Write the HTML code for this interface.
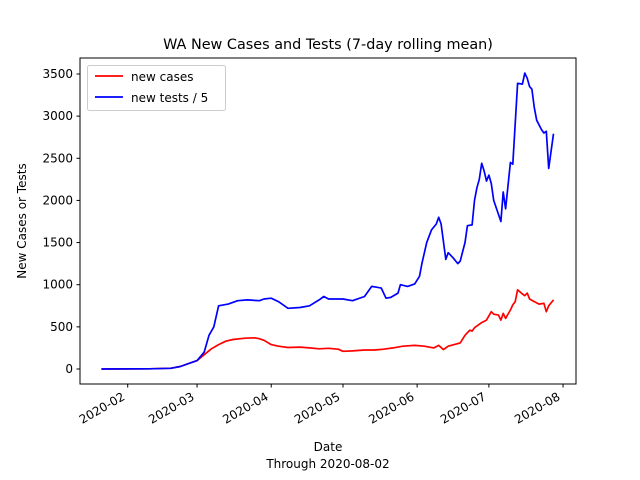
<!DOCTYPE html>
<html><head><meta charset="utf-8"><style>body{margin:0;background:#fff}svg{display:block;font-family:"DejaVu Sans","Liberation Sans",sans-serif}</style></head>
<body>
<svg id="c" width="640" height="480" xmlns="http://www.w3.org/2000/svg"></svg>
<script>
const yTicks=[0,500,1000,1500,2000,2500,3000,3500];
const xTickDates=["2020-02-01","2020-03-01","2020-04-01","2020-05-01","2020-06-01","2020-07-01","2020-08-01"];
const xTickLabels=["2020-02","2020-03","2020-04","2020-05","2020-06","2020-07","2020-08"];
const caseDates=["2020-01-21","2020-02-10","2020-02-19","2020-02-23","2020-02-27","2020-03-01","2020-03-04","2020-03-07","2020-03-10","2020-03-13","2020-03-16","2020-03-21","2020-03-25","2020-03-27","2020-03-29","2020-04-01","2020-04-04","2020-04-08","2020-04-13","2020-04-17","2020-04-21","2020-04-25","2020-04-29","2020-05-01","2020-05-05","2020-05-10","2020-05-14","2020-05-18","2020-05-22","2020-05-26","2020-05-31","2020-06-04","2020-06-08","2020-06-10","2020-06-12","2020-06-14","2020-06-19","2020-06-21","2020-06-23","2020-06-24","2020-06-25","2020-06-28","2020-06-30","2020-07-02","2020-07-03","2020-07-05","2020-07-06","2020-07-07","2020-07-08","2020-07-10","2020-07-11","2020-07-12","2020-07-13","2020-07-15","2020-07-16","2020-07-17","2020-07-18","2020-07-20","2020-07-22","2020-07-24","2020-07-25","2020-07-26","2020-07-28"];
const cases=[0,2,10,30,70,100,170,240,290,330,350,365,370,360,340,290,270,255,260,250,240,245,235,210,215,225,225,235,250,270,280,270,250,280,230,270,310,400,460,450,490,550,580,680,650,640,580,660,600,700,760,800,940,890,870,900,830,800,770,780,680,750,820];
const testDates=["2020-01-21","2020-02-10","2020-02-19","2020-02-23","2020-03-01","2020-03-04","2020-03-06","2020-03-08","2020-03-10","2020-03-14","2020-03-18","2020-03-22","2020-03-27","2020-03-29","2020-04-01","2020-04-04","2020-04-08","2020-04-13","2020-04-17","2020-04-21","2020-04-23","2020-04-25","2020-05-01","2020-05-05","2020-05-10","2020-05-13","2020-05-15","2020-05-17","2020-05-19","2020-05-21","2020-05-24","2020-05-25","2020-05-28","2020-05-31","2020-06-02","2020-06-03","2020-06-05","2020-06-07","2020-06-09","2020-06-10","2020-06-11","2020-06-13","2020-06-14","2020-06-16","2020-06-18","2020-06-19","2020-06-21","2020-06-22","2020-06-24","2020-06-25","2020-06-26","2020-06-27","2020-06-28","2020-06-29","2020-06-30","2020-07-01","2020-07-02","2020-07-03","2020-07-06","2020-07-07","2020-07-08","2020-07-10","2020-07-11","2020-07-13","2020-07-15","2020-07-16","2020-07-17","2020-07-18","2020-07-19","2020-07-20","2020-07-21","2020-07-23","2020-07-24","2020-07-25","2020-07-26","2020-07-28"];
const tests=[0,2,8,30,100,200,400,500,750,770,810,820,810,830,840,800,720,730,750,820,860,830,830,810,860,980,970,960,840,850,900,1000,980,1010,1100,1250,1500,1650,1720,1800,1720,1300,1380,1320,1250,1280,1500,1700,1710,2000,2150,2250,2440,2350,2230,2300,2200,2000,1750,2100,1900,2450,2430,3390,3380,3510,3450,3350,3320,3100,2950,2840,2800,2820,2380,2790];
</script>
<script>
const svg=document.getElementById('c');const NS='http://www.w3.org/2000/svg';
const L=80,R=576,T=58,B=384;
const d0=Date.UTC(2020,1,1),DAY=86400000;
function day(s){const p=s.split('-');return (Date.UTC(+p[0],p[1]-1,+p[2])-d0)/DAY;}
function X(s){return 127.7+day(s)*2.392;}
function Y(v){return 369-v*0.08429;}
function mk(t,a,p){const e=document.createElementNS(NS,t);for(const k in a)e.setAttribute(k,a[k]);(p||svg).appendChild(e);return e;}
mk('rect',{x:0,y:0,width:640,height:480,fill:'#fff'});
let t=mk('text',{x:328,y:49,'text-anchor':'middle','font-size':14.4});t.textContent='WA New Cases and Tests (7-day rolling mean)';


function line(ds,vs,col,name){let d='';const n=Math.min(ds.length,vs.length);for(let i=0;i<n;i++){d+=(i?'L':'M')+X(ds[i]).toFixed(1)+','+Y(vs[i]).toFixed(1);}
const p=mk('path',{d:d,fill:'none',stroke:col,'stroke-width':1.7,'stroke-linejoin':'round'});

}
line(caseDates,cases,'#ff0000','new-cases-line');
line(testDates,tests,'#0000ff','new-tests-line');
const fr=mk('rect',{x:L,y:T,width:R-L,height:B-T,fill:'none',stroke:'#000','stroke-width':1});


yTicks.forEach(v=>{const y=Y(v);mk('line',{x1:L-3.5,x2:L,y1:y,y2:y,stroke:'#000'});
const tx=mk('text',{x:L-7,y:y+4,'text-anchor':'end','font-size':12});tx.textContent=v;

});
xTickDates.forEach((s,i)=>{const x=X(s);mk('line',{x1:x,x2:x,y1:B,y2:B+3.5,stroke:'#000'});
const ax=x-2;
const tx=mk('text',{x:ax,y:399,'text-anchor':'end','font-size':12,transform:`rotate(-30 ${ax} 399)`});tx.textContent=xTickLabels[i];

});
t=mk('text',{x:328,y:451,'text-anchor':'middle','font-size':12});t.textContent='Date';


t=mk('text',{x:328,y:468,'text-anchor':'middle','font-size':12});t.textContent='Through 2020-08-02';


t=mk('text',{x:26,y:221,'text-anchor':'middle','font-size':12,transform:'rotate(-90 26 221)'});t.textContent='New Cases or Tests';


const g=mk('g',{});


mk('rect',{x:87.5,y:65.5,width:138,height:45,rx:2,fill:'#fff',stroke:'#ccc'},g);
mk('line',{x1:95,x2:123,y1:76,y2:76,stroke:'#ff0000','stroke-width':1.7},g);
t=mk('text',{x:131,y:81,'font-size':12},g);t.textContent='new cases';


mk('line',{x1:95,x2:123,y1:97,y2:97,stroke:'#0000ff','stroke-width':1.7},g);
t=mk('text',{x:131,y:102,'font-size':12},g);t.textContent='new tests / 5';


</script>
</body></html>
